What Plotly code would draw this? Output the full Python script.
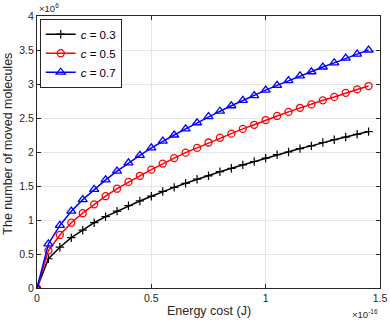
import plotly.graph_objects as go

# energy cost in units of 1e-16 J
energy = [0, 0.05, 0.1, 0.15, 0.2, 0.25, 0.3, 0.35, 0.4, 0.45,
          0.5, 0.55, 0.6, 0.65, 0.7, 0.75, 0.8, 0.85, 0.9, 0.95,
          1.0, 1.05, 1.1, 1.15, 1.2, 1.25, 1.3, 1.35, 1.4, 1.45]

# moved molecules in units of 1e6
c03 = [0, 0.43, 0.60, 0.74, 0.85, 0.96, 1.05, 1.13, 1.21, 1.28,
       1.35, 1.42, 1.48, 1.54, 1.60, 1.65, 1.71, 1.76, 1.81, 1.86,
       1.91, 1.96, 2.00, 2.05, 2.09, 2.14, 2.18, 2.22, 2.26, 2.30]
c05 = [0, 0.55, 0.78, 0.96, 1.10, 1.23, 1.35, 1.46, 1.56, 1.65,
       1.74, 1.83, 1.91, 1.99, 2.06, 2.14, 2.21, 2.27, 2.34, 2.40,
       2.47, 2.53, 2.59, 2.65, 2.70, 2.76, 2.81, 2.87, 2.92, 2.97]
c07 = [0, 0.65, 0.92, 1.13, 1.30, 1.45, 1.59, 1.72, 1.84, 1.95,
       2.06, 2.16, 2.25, 2.34, 2.43, 2.52, 2.60, 2.68, 2.76, 2.83,
       2.91, 2.98, 3.05, 3.12, 3.18, 3.25, 3.31, 3.38, 3.44, 3.50]

series = [
    ("<i>c</i> = 0.3", c03, "black", "cross-thin-open", 6, 1.2),
    ("<i>c</i> = 0.5", c05, "red", "circle-open", 7, 1.3),
    ("<i>c</i> = 0.7", c07, "blue", "triangle-up-open", 8, 1.3),
]

fig = go.Figure()
for name, vals, col, sym, sz, mw in series:
    fig.add_trace(go.Scatter(
        x=energy, y=vals, name=name, mode="lines+markers",
        line=dict(color=col, width=1.5),
        marker=dict(symbol=sym, size=sz, color=col, line=dict(color=col, width=mw)),
    ))

axis_common = dict(
    showline=True, linecolor="#262626", linewidth=1, mirror="ticks",
    ticks="inside", ticklen=4, tickcolor="#262626",
    showgrid=True, gridcolor="#e5e5e5", gridwidth=1, zeroline=False,
    tickfont=dict(size=10.5, color="#262626"), automargin=False,
)

fig.update_layout(
    width=390, height=325,
    margin=dict(l=37, r=10, t=16, b=37),
    paper_bgcolor="white", plot_bgcolor="white",
    font=dict(family="Liberation Sans, Arial, sans-serif", size=10, color="#262626"),
    xaxis=dict(range=[0, 1.5], tickvals=[0, 0.5, 1, 1.5], ticktext=["0", "0.5", "1", "1.5"],
               **axis_common),
    yaxis=dict(range=[0, 4], tickvals=[0, 0.5, 1, 1.5, 2, 2.5, 3, 3.5, 4],
               ticktext=["0", "0.5", "1", "1.5", "2", "2.5", "3", "3.5", "4"],
               **axis_common),
    legend=dict(x=0.008, y=0.99, xanchor="left", yanchor="top",
                bordercolor="#262626", borderwidth=1, bgcolor="white",
                font=dict(size=11.5, color="black"), tracegroupgap=0,
                itemwidth=30),
    showlegend=True,
    annotations=[
        dict(text="Energy cost (J)", xref="paper", yref="paper", x=0.5, y=-0.05,
             xanchor="center", yanchor="top", showarrow=False, font=dict(size=12.5)),
        dict(text="The number of moved molecules", xref="paper", yref="paper", x=-0.085, y=0.53,
             xanchor="center", yanchor="middle", textangle=-90, showarrow=False, font=dict(size=12.5)),
        dict(text="\u00d710<sup>6</sup>", xref="paper", yref="paper", x=0, y=1,
             xanchor="left", yanchor="bottom", showarrow=False, font=dict(size=9.5)),
        dict(text="\u00d710<sup>-16</sup>", xref="paper", yref="paper", x=1.0, y=-0.065,
             xanchor="right", yanchor="top", showarrow=False, font=dict(size=9.5)),
    ],
)

fig.write_html("out.html", config={"displayModeBar": False},
               post_script="document.body.style.margin='0';")
